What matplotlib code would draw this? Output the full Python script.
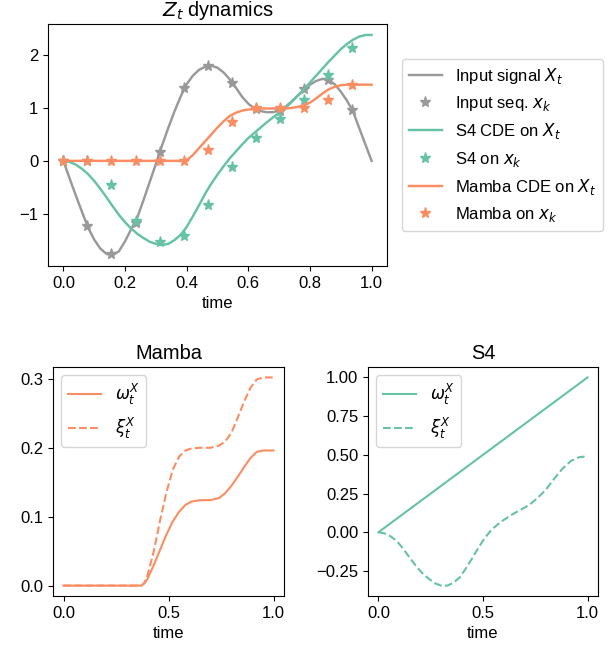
import matplotlib
matplotlib.use("Agg")
import matplotlib.pyplot as plt

plt.rcParams['font.family'] = ['Liberation Sans', 'DejaVu Sans']
plt.rcParams['font.size'] = 12

# colours (Set2-like)
c_in = '#999999'
c_s4 = '#66c2a5'
c_mb = '#fc8d62'

# --- top panel: continuous signals ---
t_line = [0.00, 0.02, 0.04, 0.06, 0.08, 0.10, 0.12, 0.14, 0.16, 0.18,
          0.20, 0.22, 0.24, 0.26, 0.28, 0.30, 0.32, 0.34, 0.36, 0.38,
          0.40, 0.42, 0.44, 0.46, 0.48, 0.50, 0.52, 0.54, 0.56, 0.58,
          0.60, 0.62, 0.64, 0.66, 0.68, 0.70, 0.72, 0.74, 0.76, 0.78,
          0.80, 0.82, 0.84, 0.86, 0.88, 0.90, 0.92, 0.94, 0.96, 0.98, 1.00]
x_signal = [0.00, -0.33, -0.65, -0.96, -1.26, -1.49, -1.66, -1.76, -1.78, -1.71,
            -1.52, -1.29, -1.07, -0.74, -0.40, -0.06, 0.29, 0.62, 0.93, 1.21,
            1.45, 1.61, 1.72, 1.78, 1.80, 1.76, 1.67, 1.54, 1.38, 1.21,
            1.08, 0.99, 0.94, 0.92, 0.92, 0.95, 1.02, 1.12, 1.23, 1.34,
            1.44, 1.51, 1.55, 1.53, 1.45, 1.31, 1.14, 0.93, 0.62, 0.31, 0.00]
s4_cde = [0.00, -0.02, -0.07, -0.15, -0.25, -0.38, -0.53, -0.69, -0.86, -1.02,
          -1.16, -1.28, -1.38, -1.46, -1.53, -1.57, -1.59, -1.57, -1.50, -1.40,
          -1.25, -1.05, -0.84, -0.62, -0.43, -0.26, -0.10, 0.05, 0.18, 0.31,
          0.43, 0.53, 0.63, 0.73, 0.82, 0.91, 1.00, 1.11, 1.23, 1.35,
          1.48, 1.61, 1.74, 1.87, 1.99, 2.11, 2.21, 2.29, 2.35, 2.38, 2.38]
mamba_cde = [0, 0, 0, 0, 0, 0, 0, 0, 0, 0,
             0, 0, 0, 0, 0, 0, 0, 0, 0, 0,
             0.01, 0.11, 0.24, 0.37, 0.50, 0.63, 0.75, 0.85, 0.91, 0.95,
             0.97, 0.98, 0.99, 0.99, 0.99, 0.99, 0.99, 1.00, 1.02, 1.05,
             1.10, 1.18, 1.27, 1.35, 1.40, 1.43, 1.44, 1.44, 1.44, 1.44, 1.44]

# discrete sequence
t_k = [0, 0.078, 0.156, 0.234, 0.3125, 0.391, 0.469, 0.547, 0.625, 0.703, 0.781, 0.859, 0.9375]
x_seq = [0, -1.23, -1.77, -1.17, 0.16, 1.37, 1.80, 1.48, 0.98, 0.95, 1.35, 1.53, 0.96]
s4_seq = [0, 0, -0.46, -1.13, -1.54, -1.43, -0.84, -0.12, 0.44, 0.80, 1.15, 1.62, 2.14]
mamba_seq = [0, 0, 0, 0, 0, 0, 0.20, 0.73, 0.99, 0.99, 0.99, 1.15, 1.44]

# --- bottom left: Mamba ---
t_mb = [0, 0.1, 0.2, 0.3, 0.37, 0.385, 0.40, 0.43, 0.46, 0.49, 0.52, 0.55, 0.58, 0.61,
        0.65, 0.70, 0.74, 0.77, 0.80, 0.83, 0.86, 0.89, 0.92, 0.95, 1.0]
mb_omega = [0, 0, 0, 0, 0, 0.003, 0.010, 0.030, 0.052, 0.074, 0.093, 0.107, 0.117, 0.122,
            0.124, 0.124, 0.127, 0.134, 0.145, 0.158, 0.172, 0.185, 0.194, 0.196, 0.196]
mb_xi = [0, 0, 0, 0, 0, 0.004, 0.015, 0.050, 0.095, 0.135, 0.168, 0.187, 0.196, 0.199,
         0.200, 0.200, 0.203, 0.209, 0.222, 0.244, 0.267, 0.287, 0.299, 0.302, 0.302]

# --- bottom right: S4 ---
t_s4_omega = [0, 1.0]
s4_omega = [0, 1.0]
t_s4_xi = [0, 0.03, 0.06, 0.09, 0.12, 0.15, 0.18, 0.21, 0.24, 0.27, 0.30, 0.33,
           0.36, 0.39, 0.42, 0.45, 0.48, 0.51, 0.54, 0.57, 0.60, 0.64, 0.68,
           0.72, 0.76, 0.80, 0.84, 0.88, 0.92, 0.96, 1.0]
s4_xi = [0, -0.008, -0.028, -0.06, -0.11, -0.165, -0.22, -0.265, -0.30, -0.33, -0.345, -0.345,
         -0.325, -0.29, -0.23, -0.165, -0.095, -0.035, 0.015, 0.05, 0.08, 0.115, 0.145,
         0.175, 0.22, 0.274, 0.345, 0.41, 0.46, 0.485, 0.49]

fig = plt.figure(figsize=(6.1, 6.48), dpi=100)

ax = fig.add_axes([0.0787, 0.5895, 0.5557, 0.3735])
ax.plot(t_line, x_signal, color=c_in, lw=1.75, label='Input signal $X_t$')
ax.plot(t_k, x_seq, '*', color=c_in, ms=8, label='Input seq. $x_k$')
ax.plot(t_line, s4_cde, color=c_s4, lw=1.75, label='S4 CDE on $X_t$')
ax.plot(t_k, s4_seq, '*', color=c_s4, ms=8, label='S4 on $x_k$')
ax.plot(t_line, mamba_cde, color=c_mb, lw=1.75, label='Mamba CDE on $X_t$')
ax.plot(t_k, mamba_seq, '*', color=c_mb, ms=8, label='Mamba on $x_k$')
ax.set_title('$Z_t$ dynamics')
ax.set_xlabel('time')
ax.legend(loc='center left', bbox_to_anchor=(1.02, 0.5))

ax1 = fig.add_axes([0.0869, 0.0802, 0.3787, 0.3534])
ax1.plot(t_mb, mb_omega, color=c_mb, lw=1.5, label=r'$\omega^X_t$')
ax1.plot(t_mb, mb_xi, color=c_mb, lw=1.5, ls='--', label=r'$\xi^X_t$')
ax1.set_title('Mamba')
ax1.set_xlabel('time')
ax1.set_xticks([0, 0.5, 1.0])
ax1.set_yticks([0, 0.1, 0.2, 0.3])
ax1.legend(loc='upper left')

ax2 = fig.add_axes([0.6033, 0.0802, 0.377, 0.3534])
ax2.plot(t_s4_omega, s4_omega, color=c_s4, lw=1.5, label=r'$\omega^X_t$')
ax2.plot(t_s4_xi, s4_xi, color=c_s4, lw=1.5, ls='--', label=r'$\xi^X_t$')
ax2.set_title('S4')
ax2.set_xlabel('time')
ax2.set_xticks([0, 0.5, 1.0])
ax2.set_yticks([-0.25, 0, 0.25, 0.5, 0.75, 1.0])
ax2.legend(loc='upper left')

fig.savefig('out.png', dpi=100)
